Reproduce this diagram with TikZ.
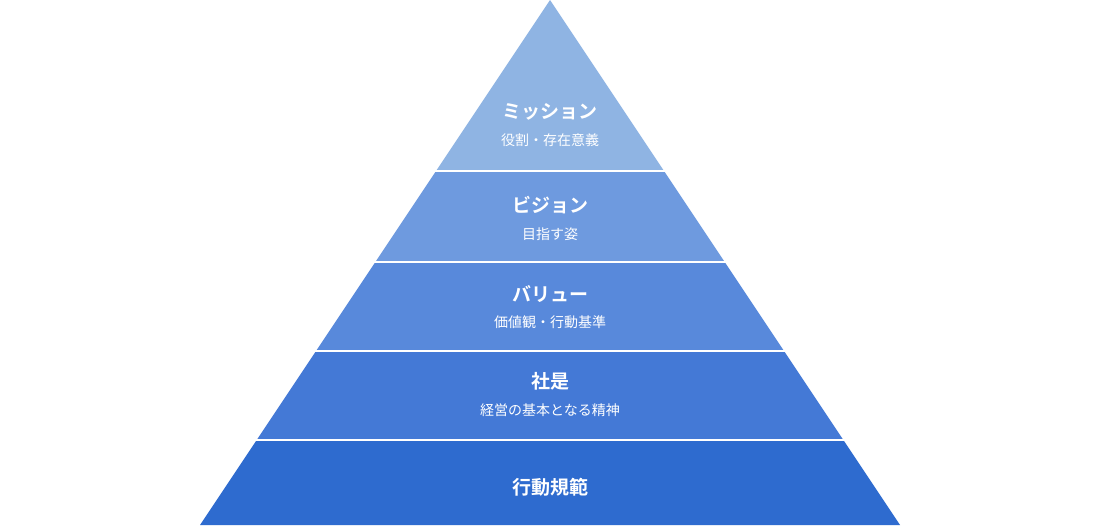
\documentclass[tikz,border=0pt]{standalone}
\usepackage{fontspec}
\newfontfamily\jp{Noto Sans CJK JP}
\newfontfamily\jpb{Noto Sans CJK JP Bold}
\definecolor{c1}{HTML}{8FB4E3}
\definecolor{c2}{HTML}{6E9ADF}
\definecolor{c3}{HTML}{5889DB}
\definecolor{c4}{HTML}{4479D6}
\definecolor{c5}{HTML}{2E6BCF}
\tikzset{ttl/.style={text=white,font=\jpb\fontsize{19}{22}\selectfont},
sub/.style={text=white,font=\jp\fontsize{14}{17}\selectfont},
sep/.style={draw=white,line width=2pt}}
\begin{document}
\begin{tikzpicture}[x=1pt,y=-1pt]
\useasboundingbox[fill=white] (0,0) rectangle (1100,532);
\def\band#1#2#3{\fill[#3] ({550-2*#1/3},#1) -- ({550+2*#1/3},#1) -- ({550+2*#2/3},#2) -- ({550-2*#2/3},#2) -- cycle;}
\band{0}{171}{c1}
\band{171}{262}{c2}
\band{262}{351}{c3}
\band{351}{440}{c4}
\band{440}{525}{c5}
\foreach \y in {171,262,351,440} \draw[sep] ({550-2*\y/3-2},\y) -- ({550+2*\y/3+2},\y);
\node[ttl] (t1) at (550,112) {ミッション};
\node[sub] (s1) at (550,140) {役割・存在意義};
\node[ttl] (t2) at (550,205) {ビジョン};
\node[sub] (s2) at (550,234) {目指す姿};
\node[ttl] (t3) at (550,294) {バリュー};
\node[sub] (s3) at (550,322) {価値観・行動基準};
\node[ttl] (t4) at (550,381) {社是};
\node[sub] (s4) at (550,410) {経営の基本となる精神};
\node[ttl] (t5) at (550,487) {行動規範};
\end{tikzpicture}
\end{document}
